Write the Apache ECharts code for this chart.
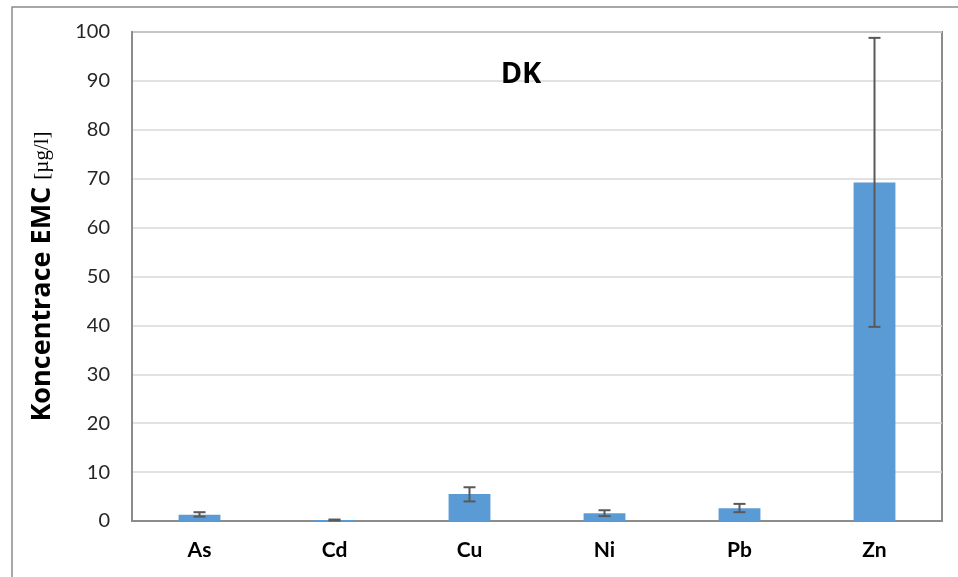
<!DOCTYPE html>
<html>
<head>
<meta charset="utf-8">
<script src="https://cdn.jsdelivr.net/npm/echarts@6/dist/echarts.min.js"></script>
<style>
  html, body { margin: 0; padding: 0; background: #fff; }
  #chart { width: 958px; height: 577px; }
</style>
</head>
<body>
<div id="chart"></div>
<script>
// kategorie a hodnoty
const categories = ['As', 'Cd', 'Cu', 'Ni', 'Pb', 'Zn']
const values = [1.3, 0.2, 5.5, 1.6, 2.6, 69.2]
const errLow = [0.9, 0.1, 4.0, 1.0, 1.8, 39.7]
const errHigh = [1.8, 0.3, 6.9, 2.2, 3.5, 98.8]
const yTicks = [0, 10, 20, 30, 40, 50, 60, 70, 80, 90, 100]

const chart = echarts.init(document.getElementById('chart'))

const errData = categories.map((c, i) => [i, errLow[i], errHigh[i]])

const option = {
  animation: false,
  grid: {
    left: 132,
    right: 16,
    top: 32,
    bottom: 56,
    show: true,
    borderColor: '#8c8c8c',
    borderWidth: 2
  },
  title: {
    text: 'DK',
    left: 516,
    top: 55,
    textAlign: 'center',
    textStyle: {
      fontFamily: 'Open Sans',
      fontWeight: 'bold',
      fontSize: 29,
      color: '#000'
    }
  },
  graphic: [
    {
      type: 'polyline',
      shape: { points: [[12, 577], [12, 7], [958, 7]] },
      style: { stroke: '#8c8c8c', lineWidth: 1.5, fill: null }
    }
  ],
  xAxis: {
    type: 'category',
    data: categories,
    axisTick: { show: false },
    axisLine: { lineStyle: { color: '#8c8c8c', width: 2 } },
    axisLabel: {
      margin: 19,
      fontFamily: 'Lato',
      fontWeight: 'bold',
      fontSize: 21,
      color: '#000'
    }
  },
  yAxis: {
    type: 'value',
    min: yTicks[0],
    max: yTicks[yTicks.length - 1],
    interval: 10,
    name: '{a|Koncentrace EMC }{b|[µg/l]}',
    nameLocation: 'middle',
    nameGap: 76,
    nameTextStyle: {
      rich: {
        a: { fontFamily: 'Open Sans', fontWeight: 'bold', fontSize: 27, color: '#000' },
        b: { fontFamily: 'Liberation Serif', fontSize: 21, color: '#000' }
      }
    },
    axisLine: { show: true, lineStyle: { color: '#8c8c8c', width: 2 } },
    axisTick: { show: false },
    splitLine: { lineStyle: { color: '#d9d9d9', width: 1.5 } },
    axisLabel: {
      margin: 22,
      fontFamily: 'Lato',
      fontSize: 20,
      color: '#262626'
    }
  },
  series: [
    {
      type: 'bar',
      data: values,
      barWidth: '31%',
      itemStyle: { color: '#5b9bd5' }
    },
    {
      type: 'custom',
      data: errData,
      z: 10,
      renderItem: function (params, api) {
        const x = api.value(0)
        const lo = api.coord([x, api.value(1)])
        const hi = api.coord([x, api.value(2)])
        const hw = 6
        const st = { stroke: '#595959', lineWidth: 2 }
        return {
          type: 'group',
          children: [
            { type: 'line', shape: { x1: lo[0], y1: lo[1], x2: hi[0], y2: hi[1] }, style: st },
            { type: 'line', shape: { x1: lo[0] - hw, y1: lo[1], x2: lo[0] + hw, y2: lo[1] }, style: st },
            { type: 'line', shape: { x1: hi[0] - hw, y1: hi[1], x2: hi[0] + hw, y2: hi[1] }, style: st }
          ]
        }
      }
    }
  ]
}

chart.setOption(option)
</script>
</body>
</html>
